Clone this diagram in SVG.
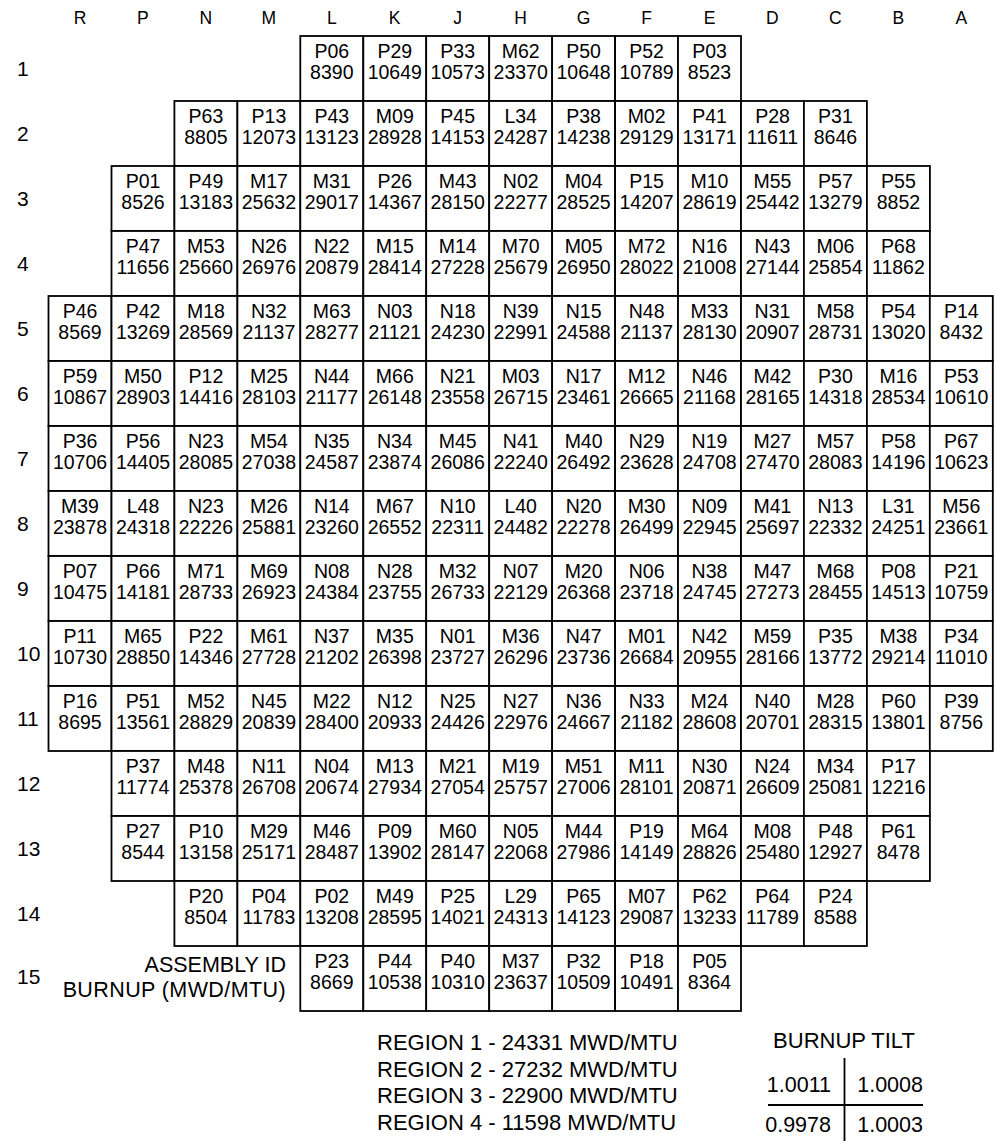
<svg xmlns="http://www.w3.org/2000/svg" width="994" height="1141" viewBox="0 0 994 1141">
<style>
text{font-family:"Liberation Sans",Arial,Helvetica,sans-serif;fill:#000}
.cell rect{fill:#fff;stroke:#000;stroke-width:1.8}
.cell text{font-size:19.5px;text-anchor:middle}
.col{font-size:17.5px;text-anchor:middle}
.row{font-size:21px}
.leg{font-size:21.5px;text-anchor:end}
.reg{font-size:22px}
.tilt{font-size:21.5px;text-anchor:end}
</style>
<rect width="994" height="1141" fill="#fff"/>
<g id="column-labels">
<text class="col" x="80" y="23.5">R</text><text class="col" x="142.9" y="23.5">P</text><text class="col" x="205.9" y="23.5">N</text><text class="col" x="268.8" y="23.5">M</text><text class="col" x="331.8" y="23.5">L</text><text class="col" x="394.7" y="23.5">K</text><text class="col" x="457.7" y="23.5">J</text><text class="col" x="520.6" y="23.5">H</text><text class="col" x="583.6" y="23.5">G</text><text class="col" x="646.5" y="23.5">F</text><text class="col" x="709.5" y="23.5">E</text><text class="col" x="772.4" y="23.5">D</text><text class="col" x="835.4" y="23.5">C</text><text class="col" x="898.3" y="23.5">B</text><text class="col" x="961.3" y="23.5">A</text>
</g>
<g id="row-labels">
<text class="row" x="17" y="76">1</text><text class="row" x="17" y="141">2</text><text class="row" x="17" y="206">3</text><text class="row" x="17" y="271">4</text><text class="row" x="17" y="336">5</text><text class="row" x="17" y="401">6</text><text class="row" x="17" y="466">7</text><text class="row" x="17" y="531">8</text><text class="row" x="17" y="596">9</text><text class="row" x="17" y="661">10</text><text class="row" x="17" y="726">11</text><text class="row" x="17" y="791">12</text><text class="row" x="17" y="856">13</text><text class="row" x="17" y="921">14</text><text class="row" x="17" y="984">15</text>
</g>
<g id="connectors"></g>
<g id="cells">
<!-- row 1 -->
<g class="cell" id="cell-L1" transform="translate(300.3,36)"><rect width="63" height="65"/><text x="31.5" y="21.5">P06</text><text x="31.5" y="43">8390</text></g>
<g class="cell" id="cell-K1" transform="translate(363.3,36)"><rect width="63" height="65"/><text x="31.5" y="21.5">P29</text><text x="31.5" y="43">10649</text></g>
<g class="cell" id="cell-J1" transform="translate(426.2,36)"><rect width="63" height="65"/><text x="31.5" y="21.5">P33</text><text x="31.5" y="43">10573</text></g>
<g class="cell" id="cell-H1" transform="translate(489.2,36)"><rect width="63" height="65"/><text x="31.5" y="21.5">M62</text><text x="31.5" y="43">23370</text></g>
<g class="cell" id="cell-G1" transform="translate(552.1,36)"><rect width="63" height="65"/><text x="31.5" y="21.5">P50</text><text x="31.5" y="43">10648</text></g>
<g class="cell" id="cell-F1" transform="translate(615.1,36)"><rect width="63" height="65"/><text x="31.5" y="21.5">P52</text><text x="31.5" y="43">10789</text></g>
<g class="cell" id="cell-E1" transform="translate(678,36)"><rect width="63" height="65"/><text x="31.5" y="21.5">P03</text><text x="31.5" y="43">8523</text></g>
<!-- row 2 -->
<g class="cell" id="cell-N2" transform="translate(174.4,101)"><rect width="63" height="65"/><text x="31.5" y="21.5">P63</text><text x="31.5" y="43">8805</text></g>
<g class="cell" id="cell-M2" transform="translate(237.4,101)"><rect width="63" height="65"/><text x="31.5" y="21.5">P13</text><text x="31.5" y="43">12073</text></g>
<g class="cell" id="cell-L2" transform="translate(300.3,101)"><rect width="63" height="65"/><text x="31.5" y="21.5">P43</text><text x="31.5" y="43">13123</text></g>
<g class="cell" id="cell-K2" transform="translate(363.3,101)"><rect width="63" height="65"/><text x="31.5" y="21.5">M09</text><text x="31.5" y="43">28928</text></g>
<g class="cell" id="cell-J2" transform="translate(426.2,101)"><rect width="63" height="65"/><text x="31.5" y="21.5">P45</text><text x="31.5" y="43">14153</text></g>
<g class="cell" id="cell-H2" transform="translate(489.2,101)"><rect width="63" height="65"/><text x="31.5" y="21.5">L34</text><text x="31.5" y="43">24287</text></g>
<g class="cell" id="cell-G2" transform="translate(552.1,101)"><rect width="63" height="65"/><text x="31.5" y="21.5">P38</text><text x="31.5" y="43">14238</text></g>
<g class="cell" id="cell-F2" transform="translate(615.1,101)"><rect width="63" height="65"/><text x="31.5" y="21.5">M02</text><text x="31.5" y="43">29129</text></g>
<g class="cell" id="cell-E2" transform="translate(678,101)"><rect width="63" height="65"/><text x="31.5" y="21.5">P41</text><text x="31.5" y="43">13171</text></g>
<g class="cell" id="cell-D2" transform="translate(741,101)"><rect width="63" height="65"/><text x="31.5" y="21.5">P28</text><text x="31.5" y="43">11611</text></g>
<g class="cell" id="cell-C2" transform="translate(803.9,101)"><rect width="63" height="65"/><text x="31.5" y="21.5">P31</text><text x="31.5" y="43">8646</text></g>
<!-- row 3 -->
<g class="cell" id="cell-P3" transform="translate(111.5,166)"><rect width="63" height="65"/><text x="31.5" y="21.5">P01</text><text x="31.5" y="43">8526</text></g>
<g class="cell" id="cell-N3" transform="translate(174.4,166)"><rect width="63" height="65"/><text x="31.5" y="21.5">P49</text><text x="31.5" y="43">13183</text></g>
<g class="cell" id="cell-M3" transform="translate(237.4,166)"><rect width="63" height="65"/><text x="31.5" y="21.5">M17</text><text x="31.5" y="43">25632</text></g>
<g class="cell" id="cell-L3" transform="translate(300.3,166)"><rect width="63" height="65"/><text x="31.5" y="21.5">M31</text><text x="31.5" y="43">29017</text></g>
<g class="cell" id="cell-K3" transform="translate(363.3,166)"><rect width="63" height="65"/><text x="31.5" y="21.5">P26</text><text x="31.5" y="43">14367</text></g>
<g class="cell" id="cell-J3" transform="translate(426.2,166)"><rect width="63" height="65"/><text x="31.5" y="21.5">M43</text><text x="31.5" y="43">28150</text></g>
<g class="cell" id="cell-H3" transform="translate(489.2,166)"><rect width="63" height="65"/><text x="31.5" y="21.5">N02</text><text x="31.5" y="43">22277</text></g>
<g class="cell" id="cell-G3" transform="translate(552.1,166)"><rect width="63" height="65"/><text x="31.5" y="21.5">M04</text><text x="31.5" y="43">28525</text></g>
<g class="cell" id="cell-F3" transform="translate(615.1,166)"><rect width="63" height="65"/><text x="31.5" y="21.5">P15</text><text x="31.5" y="43">14207</text></g>
<g class="cell" id="cell-E3" transform="translate(678,166)"><rect width="63" height="65"/><text x="31.5" y="21.5">M10</text><text x="31.5" y="43">28619</text></g>
<g class="cell" id="cell-D3" transform="translate(741,166)"><rect width="63" height="65"/><text x="31.5" y="21.5">M55</text><text x="31.5" y="43">25442</text></g>
<g class="cell" id="cell-C3" transform="translate(803.9,166)"><rect width="63" height="65"/><text x="31.5" y="21.5">P57</text><text x="31.5" y="43">13279</text></g>
<g class="cell" id="cell-B3" transform="translate(866.9,166)"><rect width="63" height="65"/><text x="31.5" y="21.5">P55</text><text x="31.5" y="43">8852</text></g>
<!-- row 4 -->
<g class="cell" id="cell-P4" transform="translate(111.5,231)"><rect width="63" height="65"/><text x="31.5" y="21.5">P47</text><text x="31.5" y="43">11656</text></g>
<g class="cell" id="cell-N4" transform="translate(174.4,231)"><rect width="63" height="65"/><text x="31.5" y="21.5">M53</text><text x="31.5" y="43">25660</text></g>
<g class="cell" id="cell-M4" transform="translate(237.4,231)"><rect width="63" height="65"/><text x="31.5" y="21.5">N26</text><text x="31.5" y="43">26976</text></g>
<g class="cell" id="cell-L4" transform="translate(300.3,231)"><rect width="63" height="65"/><text x="31.5" y="21.5">N22</text><text x="31.5" y="43">20879</text></g>
<g class="cell" id="cell-K4" transform="translate(363.3,231)"><rect width="63" height="65"/><text x="31.5" y="21.5">M15</text><text x="31.5" y="43">28414</text></g>
<g class="cell" id="cell-J4" transform="translate(426.2,231)"><rect width="63" height="65"/><text x="31.5" y="21.5">M14</text><text x="31.5" y="43">27228</text></g>
<g class="cell" id="cell-H4" transform="translate(489.2,231)"><rect width="63" height="65"/><text x="31.5" y="21.5">M70</text><text x="31.5" y="43">25679</text></g>
<g class="cell" id="cell-G4" transform="translate(552.1,231)"><rect width="63" height="65"/><text x="31.5" y="21.5">M05</text><text x="31.5" y="43">26950</text></g>
<g class="cell" id="cell-F4" transform="translate(615.1,231)"><rect width="63" height="65"/><text x="31.5" y="21.5">M72</text><text x="31.5" y="43">28022</text></g>
<g class="cell" id="cell-E4" transform="translate(678,231)"><rect width="63" height="65"/><text x="31.5" y="21.5">N16</text><text x="31.5" y="43">21008</text></g>
<g class="cell" id="cell-D4" transform="translate(741,231)"><rect width="63" height="65"/><text x="31.5" y="21.5">N43</text><text x="31.5" y="43">27144</text></g>
<g class="cell" id="cell-C4" transform="translate(803.9,231)"><rect width="63" height="65"/><text x="31.5" y="21.5">M06</text><text x="31.5" y="43">25854</text></g>
<g class="cell" id="cell-B4" transform="translate(866.9,231)"><rect width="63" height="65"/><text x="31.5" y="21.5">P68</text><text x="31.5" y="43">11862</text></g>
<!-- row 5 -->
<g class="cell" id="cell-R5" transform="translate(48.5,296)"><rect width="63" height="65"/><text x="31.5" y="21.5">P46</text><text x="31.5" y="43">8569</text></g>
<g class="cell" id="cell-P5" transform="translate(111.5,296)"><rect width="63" height="65"/><text x="31.5" y="21.5">P42</text><text x="31.5" y="43">13269</text></g>
<g class="cell" id="cell-N5" transform="translate(174.4,296)"><rect width="63" height="65"/><text x="31.5" y="21.5">M18</text><text x="31.5" y="43">28569</text></g>
<g class="cell" id="cell-M5" transform="translate(237.4,296)"><rect width="63" height="65"/><text x="31.5" y="21.5">N32</text><text x="31.5" y="43">21137</text></g>
<g class="cell" id="cell-L5" transform="translate(300.3,296)"><rect width="63" height="65"/><text x="31.5" y="21.5">M63</text><text x="31.5" y="43">28277</text></g>
<g class="cell" id="cell-K5" transform="translate(363.3,296)"><rect width="63" height="65"/><text x="31.5" y="21.5">N03</text><text x="31.5" y="43">21121</text></g>
<g class="cell" id="cell-J5" transform="translate(426.2,296)"><rect width="63" height="65"/><text x="31.5" y="21.5">N18</text><text x="31.5" y="43">24230</text></g>
<g class="cell" id="cell-H5" transform="translate(489.2,296)"><rect width="63" height="65"/><text x="31.5" y="21.5">N39</text><text x="31.5" y="43">22991</text></g>
<g class="cell" id="cell-G5" transform="translate(552.1,296)"><rect width="63" height="65"/><text x="31.5" y="21.5">N15</text><text x="31.5" y="43">24588</text></g>
<g class="cell" id="cell-F5" transform="translate(615.1,296)"><rect width="63" height="65"/><text x="31.5" y="21.5">N48</text><text x="31.5" y="43">21137</text></g>
<g class="cell" id="cell-E5" transform="translate(678,296)"><rect width="63" height="65"/><text x="31.5" y="21.5">M33</text><text x="31.5" y="43">28130</text></g>
<g class="cell" id="cell-D5" transform="translate(741,296)"><rect width="63" height="65"/><text x="31.5" y="21.5">N31</text><text x="31.5" y="43">20907</text></g>
<g class="cell" id="cell-C5" transform="translate(803.9,296)"><rect width="63" height="65"/><text x="31.5" y="21.5">M58</text><text x="31.5" y="43">28731</text></g>
<g class="cell" id="cell-B5" transform="translate(866.9,296)"><rect width="63" height="65"/><text x="31.5" y="21.5">P54</text><text x="31.5" y="43">13020</text></g>
<g class="cell" id="cell-A5" transform="translate(929.8,296)"><rect width="63" height="65"/><text x="31.5" y="21.5">P14</text><text x="31.5" y="43">8432</text></g>
<!-- row 6 -->
<g class="cell" id="cell-R6" transform="translate(48.5,361)"><rect width="63" height="65"/><text x="31.5" y="21.5">P59</text><text x="31.5" y="43">10867</text></g>
<g class="cell" id="cell-P6" transform="translate(111.5,361)"><rect width="63" height="65"/><text x="31.5" y="21.5">M50</text><text x="31.5" y="43">28903</text></g>
<g class="cell" id="cell-N6" transform="translate(174.4,361)"><rect width="63" height="65"/><text x="31.5" y="21.5">P12</text><text x="31.5" y="43">14416</text></g>
<g class="cell" id="cell-M6" transform="translate(237.4,361)"><rect width="63" height="65"/><text x="31.5" y="21.5">M25</text><text x="31.5" y="43">28103</text></g>
<g class="cell" id="cell-L6" transform="translate(300.3,361)"><rect width="63" height="65"/><text x="31.5" y="21.5">N44</text><text x="31.5" y="43">21177</text></g>
<g class="cell" id="cell-K6" transform="translate(363.3,361)"><rect width="63" height="65"/><text x="31.5" y="21.5">M66</text><text x="31.5" y="43">26148</text></g>
<g class="cell" id="cell-J6" transform="translate(426.2,361)"><rect width="63" height="65"/><text x="31.5" y="21.5">N21</text><text x="31.5" y="43">23558</text></g>
<g class="cell" id="cell-H6" transform="translate(489.2,361)"><rect width="63" height="65"/><text x="31.5" y="21.5">M03</text><text x="31.5" y="43">26715</text></g>
<g class="cell" id="cell-G6" transform="translate(552.1,361)"><rect width="63" height="65"/><text x="31.5" y="21.5">N17</text><text x="31.5" y="43">23461</text></g>
<g class="cell" id="cell-F6" transform="translate(615.1,361)"><rect width="63" height="65"/><text x="31.5" y="21.5">M12</text><text x="31.5" y="43">26665</text></g>
<g class="cell" id="cell-E6" transform="translate(678,361)"><rect width="63" height="65"/><text x="31.5" y="21.5">N46</text><text x="31.5" y="43">21168</text></g>
<g class="cell" id="cell-D6" transform="translate(741,361)"><rect width="63" height="65"/><text x="31.5" y="21.5">M42</text><text x="31.5" y="43">28165</text></g>
<g class="cell" id="cell-C6" transform="translate(803.9,361)"><rect width="63" height="65"/><text x="31.5" y="21.5">P30</text><text x="31.5" y="43">14318</text></g>
<g class="cell" id="cell-B6" transform="translate(866.9,361)"><rect width="63" height="65"/><text x="31.5" y="21.5">M16</text><text x="31.5" y="43">28534</text></g>
<g class="cell" id="cell-A6" transform="translate(929.8,361)"><rect width="63" height="65"/><text x="31.5" y="21.5">P53</text><text x="31.5" y="43">10610</text></g>
<!-- row 7 -->
<g class="cell" id="cell-R7" transform="translate(48.5,426)"><rect width="63" height="65"/><text x="31.5" y="21.5">P36</text><text x="31.5" y="43">10706</text></g>
<g class="cell" id="cell-P7" transform="translate(111.5,426)"><rect width="63" height="65"/><text x="31.5" y="21.5">P56</text><text x="31.5" y="43">14405</text></g>
<g class="cell" id="cell-N7" transform="translate(174.4,426)"><rect width="63" height="65"/><text x="31.5" y="21.5">N23</text><text x="31.5" y="43">28085</text></g>
<g class="cell" id="cell-M7" transform="translate(237.4,426)"><rect width="63" height="65"/><text x="31.5" y="21.5">M54</text><text x="31.5" y="43">27038</text></g>
<g class="cell" id="cell-L7" transform="translate(300.3,426)"><rect width="63" height="65"/><text x="31.5" y="21.5">N35</text><text x="31.5" y="43">24587</text></g>
<g class="cell" id="cell-K7" transform="translate(363.3,426)"><rect width="63" height="65"/><text x="31.5" y="21.5">N34</text><text x="31.5" y="43">23874</text></g>
<g class="cell" id="cell-J7" transform="translate(426.2,426)"><rect width="63" height="65"/><text x="31.5" y="21.5">M45</text><text x="31.5" y="43">26086</text></g>
<g class="cell" id="cell-H7" transform="translate(489.2,426)"><rect width="63" height="65"/><text x="31.5" y="21.5">N41</text><text x="31.5" y="43">22240</text></g>
<g class="cell" id="cell-G7" transform="translate(552.1,426)"><rect width="63" height="65"/><text x="31.5" y="21.5">M40</text><text x="31.5" y="43">26492</text></g>
<g class="cell" id="cell-F7" transform="translate(615.1,426)"><rect width="63" height="65"/><text x="31.5" y="21.5">N29</text><text x="31.5" y="43">23628</text></g>
<g class="cell" id="cell-E7" transform="translate(678,426)"><rect width="63" height="65"/><text x="31.5" y="21.5">N19</text><text x="31.5" y="43">24708</text></g>
<g class="cell" id="cell-D7" transform="translate(741,426)"><rect width="63" height="65"/><text x="31.5" y="21.5">M27</text><text x="31.5" y="43">27470</text></g>
<g class="cell" id="cell-C7" transform="translate(803.9,426)"><rect width="63" height="65"/><text x="31.5" y="21.5">M57</text><text x="31.5" y="43">28083</text></g>
<g class="cell" id="cell-B7" transform="translate(866.9,426)"><rect width="63" height="65"/><text x="31.5" y="21.5">P58</text><text x="31.5" y="43">14196</text></g>
<g class="cell" id="cell-A7" transform="translate(929.8,426)"><rect width="63" height="65"/><text x="31.5" y="21.5">P67</text><text x="31.5" y="43">10623</text></g>
<!-- row 8 -->
<g class="cell" id="cell-R8" transform="translate(48.5,491)"><rect width="63" height="65"/><text x="31.5" y="21.5">M39</text><text x="31.5" y="43">23878</text></g>
<g class="cell" id="cell-P8" transform="translate(111.5,491)"><rect width="63" height="65"/><text x="31.5" y="21.5">L48</text><text x="31.5" y="43">24318</text></g>
<g class="cell" id="cell-N8" transform="translate(174.4,491)"><rect width="63" height="65"/><text x="31.5" y="21.5">N23</text><text x="31.5" y="43">22226</text></g>
<g class="cell" id="cell-M8" transform="translate(237.4,491)"><rect width="63" height="65"/><text x="31.5" y="21.5">M26</text><text x="31.5" y="43">25881</text></g>
<g class="cell" id="cell-L8" transform="translate(300.3,491)"><rect width="63" height="65"/><text x="31.5" y="21.5">N14</text><text x="31.5" y="43">23260</text></g>
<g class="cell" id="cell-K8" transform="translate(363.3,491)"><rect width="63" height="65"/><text x="31.5" y="21.5">M67</text><text x="31.5" y="43">26552</text></g>
<g class="cell" id="cell-J8" transform="translate(426.2,491)"><rect width="63" height="65"/><text x="31.5" y="21.5">N10</text><text x="31.5" y="43">22311</text></g>
<g class="cell" id="cell-H8" transform="translate(489.2,491)"><rect width="63" height="65"/><text x="31.5" y="21.5">L40</text><text x="31.5" y="43">24482</text></g>
<g class="cell" id="cell-G8" transform="translate(552.1,491)"><rect width="63" height="65"/><text x="31.5" y="21.5">N20</text><text x="31.5" y="43">22278</text></g>
<g class="cell" id="cell-F8" transform="translate(615.1,491)"><rect width="63" height="65"/><text x="31.5" y="21.5">M30</text><text x="31.5" y="43">26499</text></g>
<g class="cell" id="cell-E8" transform="translate(678,491)"><rect width="63" height="65"/><text x="31.5" y="21.5">N09</text><text x="31.5" y="43">22945</text></g>
<g class="cell" id="cell-D8" transform="translate(741,491)"><rect width="63" height="65"/><text x="31.5" y="21.5">M41</text><text x="31.5" y="43">25697</text></g>
<g class="cell" id="cell-C8" transform="translate(803.9,491)"><rect width="63" height="65"/><text x="31.5" y="21.5">N13</text><text x="31.5" y="43">22332</text></g>
<g class="cell" id="cell-B8" transform="translate(866.9,491)"><rect width="63" height="65"/><text x="31.5" y="21.5">L31</text><text x="31.5" y="43">24251</text></g>
<g class="cell" id="cell-A8" transform="translate(929.8,491)"><rect width="63" height="65"/><text x="31.5" y="21.5">M56</text><text x="31.5" y="43">23661</text></g>
<!-- row 9 -->
<g class="cell" id="cell-R9" transform="translate(48.5,556)"><rect width="63" height="65"/><text x="31.5" y="21.5">P07</text><text x="31.5" y="43">10475</text></g>
<g class="cell" id="cell-P9" transform="translate(111.5,556)"><rect width="63" height="65"/><text x="31.5" y="21.5">P66</text><text x="31.5" y="43">14181</text></g>
<g class="cell" id="cell-N9" transform="translate(174.4,556)"><rect width="63" height="65"/><text x="31.5" y="21.5">M71</text><text x="31.5" y="43">28733</text></g>
<g class="cell" id="cell-M9" transform="translate(237.4,556)"><rect width="63" height="65"/><text x="31.5" y="21.5">M69</text><text x="31.5" y="43">26923</text></g>
<g class="cell" id="cell-L9" transform="translate(300.3,556)"><rect width="63" height="65"/><text x="31.5" y="21.5">N08</text><text x="31.5" y="43">24384</text></g>
<g class="cell" id="cell-K9" transform="translate(363.3,556)"><rect width="63" height="65"/><text x="31.5" y="21.5">N28</text><text x="31.5" y="43">23755</text></g>
<g class="cell" id="cell-J9" transform="translate(426.2,556)"><rect width="63" height="65"/><text x="31.5" y="21.5">M32</text><text x="31.5" y="43">26733</text></g>
<g class="cell" id="cell-H9" transform="translate(489.2,556)"><rect width="63" height="65"/><text x="31.5" y="21.5">N07</text><text x="31.5" y="43">22129</text></g>
<g class="cell" id="cell-G9" transform="translate(552.1,556)"><rect width="63" height="65"/><text x="31.5" y="21.5">M20</text><text x="31.5" y="43">26368</text></g>
<g class="cell" id="cell-F9" transform="translate(615.1,556)"><rect width="63" height="65"/><text x="31.5" y="21.5">N06</text><text x="31.5" y="43">23718</text></g>
<g class="cell" id="cell-E9" transform="translate(678,556)"><rect width="63" height="65"/><text x="31.5" y="21.5">N38</text><text x="31.5" y="43">24745</text></g>
<g class="cell" id="cell-D9" transform="translate(741,556)"><rect width="63" height="65"/><text x="31.5" y="21.5">M47</text><text x="31.5" y="43">27273</text></g>
<g class="cell" id="cell-C9" transform="translate(803.9,556)"><rect width="63" height="65"/><text x="31.5" y="21.5">M68</text><text x="31.5" y="43">28455</text></g>
<g class="cell" id="cell-B9" transform="translate(866.9,556)"><rect width="63" height="65"/><text x="31.5" y="21.5">P08</text><text x="31.5" y="43">14513</text></g>
<g class="cell" id="cell-A9" transform="translate(929.8,556)"><rect width="63" height="65"/><text x="31.5" y="21.5">P21</text><text x="31.5" y="43">10759</text></g>
<!-- row 10 -->
<g class="cell" id="cell-R10" transform="translate(48.5,621)"><rect width="63" height="65"/><text x="31.5" y="21.5">P11</text><text x="31.5" y="43">10730</text></g>
<g class="cell" id="cell-P10" transform="translate(111.5,621)"><rect width="63" height="65"/><text x="31.5" y="21.5">M65</text><text x="31.5" y="43">28850</text></g>
<g class="cell" id="cell-N10" transform="translate(174.4,621)"><rect width="63" height="65"/><text x="31.5" y="21.5">P22</text><text x="31.5" y="43">14346</text></g>
<g class="cell" id="cell-M10" transform="translate(237.4,621)"><rect width="63" height="65"/><text x="31.5" y="21.5">M61</text><text x="31.5" y="43">27728</text></g>
<g class="cell" id="cell-L10" transform="translate(300.3,621)"><rect width="63" height="65"/><text x="31.5" y="21.5">N37</text><text x="31.5" y="43">21202</text></g>
<g class="cell" id="cell-K10" transform="translate(363.3,621)"><rect width="63" height="65"/><text x="31.5" y="21.5">M35</text><text x="31.5" y="43">26398</text></g>
<g class="cell" id="cell-J10" transform="translate(426.2,621)"><rect width="63" height="65"/><text x="31.5" y="21.5">N01</text><text x="31.5" y="43">23727</text></g>
<g class="cell" id="cell-H10" transform="translate(489.2,621)"><rect width="63" height="65"/><text x="31.5" y="21.5">M36</text><text x="31.5" y="43">26296</text></g>
<g class="cell" id="cell-G10" transform="translate(552.1,621)"><rect width="63" height="65"/><text x="31.5" y="21.5">N47</text><text x="31.5" y="43">23736</text></g>
<g class="cell" id="cell-F10" transform="translate(615.1,621)"><rect width="63" height="65"/><text x="31.5" y="21.5">M01</text><text x="31.5" y="43">26684</text></g>
<g class="cell" id="cell-E10" transform="translate(678,621)"><rect width="63" height="65"/><text x="31.5" y="21.5">N42</text><text x="31.5" y="43">20955</text></g>
<g class="cell" id="cell-D10" transform="translate(741,621)"><rect width="63" height="65"/><text x="31.5" y="21.5">M59</text><text x="31.5" y="43">28166</text></g>
<g class="cell" id="cell-C10" transform="translate(803.9,621)"><rect width="63" height="65"/><text x="31.5" y="21.5">P35</text><text x="31.5" y="43">13772</text></g>
<g class="cell" id="cell-B10" transform="translate(866.9,621)"><rect width="63" height="65"/><text x="31.5" y="21.5">M38</text><text x="31.5" y="43">29214</text></g>
<g class="cell" id="cell-A10" transform="translate(929.8,621)"><rect width="63" height="65"/><text x="31.5" y="21.5">P34</text><text x="31.5" y="43">11010</text></g>
<!-- row 11 -->
<g class="cell" id="cell-R11" transform="translate(48.5,686)"><rect width="63" height="65"/><text x="31.5" y="21.5">P16</text><text x="31.5" y="43">8695</text></g>
<g class="cell" id="cell-P11" transform="translate(111.5,686)"><rect width="63" height="65"/><text x="31.5" y="21.5">P51</text><text x="31.5" y="43">13561</text></g>
<g class="cell" id="cell-N11" transform="translate(174.4,686)"><rect width="63" height="65"/><text x="31.5" y="21.5">M52</text><text x="31.5" y="43">28829</text></g>
<g class="cell" id="cell-M11" transform="translate(237.4,686)"><rect width="63" height="65"/><text x="31.5" y="21.5">N45</text><text x="31.5" y="43">20839</text></g>
<g class="cell" id="cell-L11" transform="translate(300.3,686)"><rect width="63" height="65"/><text x="31.5" y="21.5">M22</text><text x="31.5" y="43">28400</text></g>
<g class="cell" id="cell-K11" transform="translate(363.3,686)"><rect width="63" height="65"/><text x="31.5" y="21.5">N12</text><text x="31.5" y="43">20933</text></g>
<g class="cell" id="cell-J11" transform="translate(426.2,686)"><rect width="63" height="65"/><text x="31.5" y="21.5">N25</text><text x="31.5" y="43">24426</text></g>
<g class="cell" id="cell-H11" transform="translate(489.2,686)"><rect width="63" height="65"/><text x="31.5" y="21.5">N27</text><text x="31.5" y="43">22976</text></g>
<g class="cell" id="cell-G11" transform="translate(552.1,686)"><rect width="63" height="65"/><text x="31.5" y="21.5">N36</text><text x="31.5" y="43">24667</text></g>
<g class="cell" id="cell-F11" transform="translate(615.1,686)"><rect width="63" height="65"/><text x="31.5" y="21.5">N33</text><text x="31.5" y="43">21182</text></g>
<g class="cell" id="cell-E11" transform="translate(678,686)"><rect width="63" height="65"/><text x="31.5" y="21.5">M24</text><text x="31.5" y="43">28608</text></g>
<g class="cell" id="cell-D11" transform="translate(741,686)"><rect width="63" height="65"/><text x="31.5" y="21.5">N40</text><text x="31.5" y="43">20701</text></g>
<g class="cell" id="cell-C11" transform="translate(803.9,686)"><rect width="63" height="65"/><text x="31.5" y="21.5">M28</text><text x="31.5" y="43">28315</text></g>
<g class="cell" id="cell-B11" transform="translate(866.9,686)"><rect width="63" height="65"/><text x="31.5" y="21.5">P60</text><text x="31.5" y="43">13801</text></g>
<g class="cell" id="cell-A11" transform="translate(929.8,686)"><rect width="63" height="65"/><text x="31.5" y="21.5">P39</text><text x="31.5" y="43">8756</text></g>
<!-- row 12 -->
<g class="cell" id="cell-P12" transform="translate(111.5,751)"><rect width="63" height="65"/><text x="31.5" y="21.5">P37</text><text x="31.5" y="43">11774</text></g>
<g class="cell" id="cell-N12" transform="translate(174.4,751)"><rect width="63" height="65"/><text x="31.5" y="21.5">M48</text><text x="31.5" y="43">25378</text></g>
<g class="cell" id="cell-M12" transform="translate(237.4,751)"><rect width="63" height="65"/><text x="31.5" y="21.5">N11</text><text x="31.5" y="43">26708</text></g>
<g class="cell" id="cell-L12" transform="translate(300.3,751)"><rect width="63" height="65"/><text x="31.5" y="21.5">N04</text><text x="31.5" y="43">20674</text></g>
<g class="cell" id="cell-K12" transform="translate(363.3,751)"><rect width="63" height="65"/><text x="31.5" y="21.5">M13</text><text x="31.5" y="43">27934</text></g>
<g class="cell" id="cell-J12" transform="translate(426.2,751)"><rect width="63" height="65"/><text x="31.5" y="21.5">M21</text><text x="31.5" y="43">27054</text></g>
<g class="cell" id="cell-H12" transform="translate(489.2,751)"><rect width="63" height="65"/><text x="31.5" y="21.5">M19</text><text x="31.5" y="43">25757</text></g>
<g class="cell" id="cell-G12" transform="translate(552.1,751)"><rect width="63" height="65"/><text x="31.5" y="21.5">M51</text><text x="31.5" y="43">27006</text></g>
<g class="cell" id="cell-F12" transform="translate(615.1,751)"><rect width="63" height="65"/><text x="31.5" y="21.5">M11</text><text x="31.5" y="43">28101</text></g>
<g class="cell" id="cell-E12" transform="translate(678,751)"><rect width="63" height="65"/><text x="31.5" y="21.5">N30</text><text x="31.5" y="43">20871</text></g>
<g class="cell" id="cell-D12" transform="translate(741,751)"><rect width="63" height="65"/><text x="31.5" y="21.5">N24</text><text x="31.5" y="43">26609</text></g>
<g class="cell" id="cell-C12" transform="translate(803.9,751)"><rect width="63" height="65"/><text x="31.5" y="21.5">M34</text><text x="31.5" y="43">25081</text></g>
<g class="cell" id="cell-B12" transform="translate(866.9,751)"><rect width="63" height="65"/><text x="31.5" y="21.5">P17</text><text x="31.5" y="43">12216</text></g>
<!-- row 13 -->
<g class="cell" id="cell-P13" transform="translate(111.5,816)"><rect width="63" height="65"/><text x="31.5" y="21.5">P27</text><text x="31.5" y="43">8544</text></g>
<g class="cell" id="cell-N13" transform="translate(174.4,816)"><rect width="63" height="65"/><text x="31.5" y="21.5">P10</text><text x="31.5" y="43">13158</text></g>
<g class="cell" id="cell-M13" transform="translate(237.4,816)"><rect width="63" height="65"/><text x="31.5" y="21.5">M29</text><text x="31.5" y="43">25171</text></g>
<g class="cell" id="cell-L13" transform="translate(300.3,816)"><rect width="63" height="65"/><text x="31.5" y="21.5">M46</text><text x="31.5" y="43">28487</text></g>
<g class="cell" id="cell-K13" transform="translate(363.3,816)"><rect width="63" height="65"/><text x="31.5" y="21.5">P09</text><text x="31.5" y="43">13902</text></g>
<g class="cell" id="cell-J13" transform="translate(426.2,816)"><rect width="63" height="65"/><text x="31.5" y="21.5">M60</text><text x="31.5" y="43">28147</text></g>
<g class="cell" id="cell-H13" transform="translate(489.2,816)"><rect width="63" height="65"/><text x="31.5" y="21.5">N05</text><text x="31.5" y="43">22068</text></g>
<g class="cell" id="cell-G13" transform="translate(552.1,816)"><rect width="63" height="65"/><text x="31.5" y="21.5">M44</text><text x="31.5" y="43">27986</text></g>
<g class="cell" id="cell-F13" transform="translate(615.1,816)"><rect width="63" height="65"/><text x="31.5" y="21.5">P19</text><text x="31.5" y="43">14149</text></g>
<g class="cell" id="cell-E13" transform="translate(678,816)"><rect width="63" height="65"/><text x="31.5" y="21.5">M64</text><text x="31.5" y="43">28826</text></g>
<g class="cell" id="cell-D13" transform="translate(741,816)"><rect width="63" height="65"/><text x="31.5" y="21.5">M08</text><text x="31.5" y="43">25480</text></g>
<g class="cell" id="cell-C13" transform="translate(803.9,816)"><rect width="63" height="65"/><text x="31.5" y="21.5">P48</text><text x="31.5" y="43">12927</text></g>
<g class="cell" id="cell-B13" transform="translate(866.9,816)"><rect width="63" height="65"/><text x="31.5" y="21.5">P61</text><text x="31.5" y="43">8478</text></g>
<!-- row 14 -->
<g class="cell" id="cell-N14" transform="translate(174.4,881)"><rect width="63" height="65"/><text x="31.5" y="21.5">P20</text><text x="31.5" y="43">8504</text></g>
<g class="cell" id="cell-M14" transform="translate(237.4,881)"><rect width="63" height="65"/><text x="31.5" y="21.5">P04</text><text x="31.5" y="43">11783</text></g>
<g class="cell" id="cell-L14" transform="translate(300.3,881)"><rect width="63" height="65"/><text x="31.5" y="21.5">P02</text><text x="31.5" y="43">13208</text></g>
<g class="cell" id="cell-K14" transform="translate(363.3,881)"><rect width="63" height="65"/><text x="31.5" y="21.5">M49</text><text x="31.5" y="43">28595</text></g>
<g class="cell" id="cell-J14" transform="translate(426.2,881)"><rect width="63" height="65"/><text x="31.5" y="21.5">P25</text><text x="31.5" y="43">14021</text></g>
<g class="cell" id="cell-H14" transform="translate(489.2,881)"><rect width="63" height="65"/><text x="31.5" y="21.5">L29</text><text x="31.5" y="43">24313</text></g>
<g class="cell" id="cell-G14" transform="translate(552.1,881)"><rect width="63" height="65"/><text x="31.5" y="21.5">P65</text><text x="31.5" y="43">14123</text></g>
<g class="cell" id="cell-F14" transform="translate(615.1,881)"><rect width="63" height="65"/><text x="31.5" y="21.5">M07</text><text x="31.5" y="43">29087</text></g>
<g class="cell" id="cell-E14" transform="translate(678,881)"><rect width="63" height="65"/><text x="31.5" y="21.5">P62</text><text x="31.5" y="43">13233</text></g>
<g class="cell" id="cell-D14" transform="translate(741,881)"><rect width="63" height="65"/><text x="31.5" y="21.5">P64</text><text x="31.5" y="43">11789</text></g>
<g class="cell" id="cell-C14" transform="translate(803.9,881)"><rect width="63" height="65"/><text x="31.5" y="21.5">P24</text><text x="31.5" y="43">8588</text></g>
<!-- row 15 -->
<g class="cell" id="cell-L15" transform="translate(300.3,946)"><rect width="63" height="65"/><text x="31.5" y="21.5">P23</text><text x="31.5" y="43">8669</text></g>
<g class="cell" id="cell-K15" transform="translate(363.3,946)"><rect width="63" height="65"/><text x="31.5" y="21.5">P44</text><text x="31.5" y="43">10538</text></g>
<g class="cell" id="cell-J15" transform="translate(426.2,946)"><rect width="63" height="65"/><text x="31.5" y="21.5">P40</text><text x="31.5" y="43">10310</text></g>
<g class="cell" id="cell-H15" transform="translate(489.2,946)"><rect width="63" height="65"/><text x="31.5" y="21.5">M37</text><text x="31.5" y="43">23637</text></g>
<g class="cell" id="cell-G15" transform="translate(552.1,946)"><rect width="63" height="65"/><text x="31.5" y="21.5">P32</text><text x="31.5" y="43">10509</text></g>
<g class="cell" id="cell-F15" transform="translate(615.1,946)"><rect width="63" height="65"/><text x="31.5" y="21.5">P18</text><text x="31.5" y="43">10491</text></g>
<g class="cell" id="cell-E15" transform="translate(678,946)"><rect width="63" height="65"/><text x="31.5" y="21.5">P05</text><text x="31.5" y="43">8364</text></g>
</g>
<g id="key">
<text class="leg" x="286" y="972">ASSEMBLY ID</text>
<text class="leg" x="286" y="997" letter-spacing="0.4">BURNUP (MWD/MTU)</text>
</g>
<g id="regions">
<text class="reg" x="377" y="1050">REGION 1 - 24331 MWD/MTU</text>
<text class="reg" x="377" y="1076.5">REGION 2 - 27232 MWD/MTU</text>
<text class="reg" x="377" y="1103">REGION 3 - 22900 MWD/MTU</text>
<text class="reg" x="377" y="1130">REGION 4 - 11598 MWD/MTU</text>
</g>
<g id="burnup-tilt">
<text class="reg" x="844" y="1048" text-anchor="middle">BURNUP TILT</text>
<line x1="844.5" y1="1058" x2="844.5" y2="1141" stroke="#000" stroke-width="1.8"/>
<line x1="768" y1="1105" x2="923" y2="1105" stroke="#000" stroke-width="2.2"/>
<text class="tilt" x="831" y="1091.5">1.0011</text>
<text class="tilt" x="923" y="1091.5">1.0008</text>
<text class="tilt" x="831" y="1132">0.9978</text>
<text class="tilt" x="923" y="1132">1.0003</text>
</g>
</svg>
